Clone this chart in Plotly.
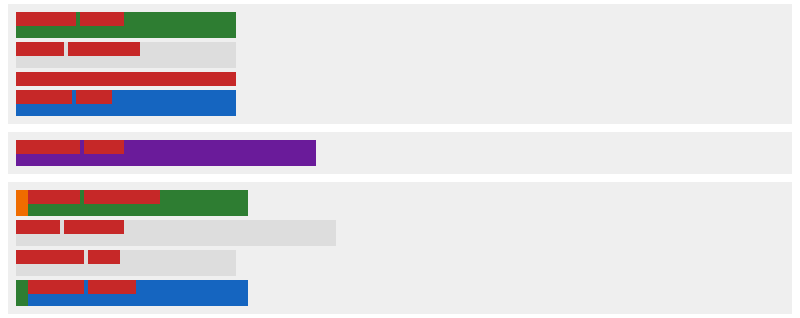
import plotly.graph_objects as go

# ---- colours ----
GREEN = "#2e7d32"
RED = "#c62828"
BLUE = "#1565c0"
PURPLE = "#6a1b9a"
ORANGE = "#ef6c00"
GREY = "#dddddd"
PANEL = "#efefef"

# ---- data (units: 1 unit = one step of the timeline) ----
# panel 1
p1_lead = [0, 0, 0, 0]
p1_lead_colors = [None, None, None, None]
p1_totals = [55, 55, 0, 55]
p1_colors = [GREEN, GREY, None, BLUE]
p1_red_starts = [[0, 16], [0, 13], [0], [0, 15]]
p1_red_lengths = [[15, 11], [12, 18], [55], [14, 9]]

# panel 2
p2_lead = [0]
p2_lead_colors = [None]
p2_totals = [75]
p2_colors = [PURPLE]
p2_red_starts = [[0, 17]]
p2_red_lengths = [[16, 10]]

# panel 3
p3_lead = [3, 0, 0, 3]
p3_lead_colors = [ORANGE, None, None, GREEN]
p3_totals = [55, 80, 55, 55]
p3_colors = [GREEN, GREY, GREY, BLUE]
p3_red_starts = [[3, 17], [0, 12], [0, 18], [3, 18]]
p3_red_lengths = [[13, 19], [11, 15], [17, 8], [14, 12]]

panels = [
    (p1_lead, p1_lead_colors, p1_totals, p1_colors, p1_red_starts, p1_red_lengths),
    (p2_lead, p2_lead_colors, p2_totals, p2_colors, p2_red_starts, p2_red_lengths),
    (p3_lead, p3_lead_colors, p3_totals, p3_colors, p3_red_starts, p3_red_lengths),
]

# ---- layout constants (pixels) ----
W, H = 800, 318
ROW_H = 26
RED_H = 14
ROW_GAP = 4
PAD = 8
PANEL_GAP = 8
TOP = 4
PX_PER_UNIT = 4
PANEL_X0, PANEL_X1 = 8, 792

fig = go.Figure()
layout_axes = {}
y_cursor = TOP
for pi, (lead, lead_c, totals, colors, rstarts, rlens) in enumerate(panels):
    n = pi + 1
    xa = "x" if n == 1 else f"x{n}"
    ya = "y" if n == 1 else f"y{n}"
    row_tops = []
    row_heights = []
    t = PAD
    for i in range(len(totals)):
        h = ROW_H if totals[i] > 0 else RED_H
        row_tops.append(t)
        row_heights.append(h)
        t += h + ROW_GAP
    panel_h = t - ROW_GAP + PAD

    def hbar(base, length, center, thick, color):
        fig.add_trace(go.Bar(
            orientation="h", base=[base], x=[length], y=[center], width=[thick],
            marker=dict(color=color, line=dict(width=0)),
            xaxis=xa, yaxis=ya, hoverinfo="skip", showlegend=False,
        ))

    for i in range(len(totals)):
        top = row_tops[i]
        h = row_heights[i]
        if lead[i] > 0:
            hbar(0, lead[i], top + h / 2, h, lead_c[i])
        if totals[i] > 0:
            hbar(lead[i], totals[i], top + h / 2, h, colors[i])
        for s, l in zip(rstarts[i], rlens[i]):
            hbar(s, l, top + RED_H / 2, RED_H, RED)

    x_units = (PANEL_X1 - PANEL_X0) / PX_PER_UNIT
    x_start = -(16 - PANEL_X0) / PX_PER_UNIT
    layout_axes["xaxis" if n == 1 else f"xaxis{n}"] = dict(
        domain=[PANEL_X0 / W, PANEL_X1 / W], range=[x_start, x_start + x_units],
        visible=False, fixedrange=True, anchor=ya,
    )
    layout_axes["yaxis" if n == 1 else f"yaxis{n}"] = dict(
        domain=[1 - (y_cursor + panel_h) / H, 1 - y_cursor / H],
        range=[panel_h, 0], visible=False, fixedrange=True, anchor=xa,
    )
    y_cursor += panel_h + PANEL_GAP

fig.update_layout(
    width=W, height=H,
    margin=dict(l=0, r=0, t=0, b=0),
    paper_bgcolor="white", plot_bgcolor=PANEL,
    barmode="overlay", showlegend=False,
    **layout_axes,
)

fig.write_html("out.html", config={"displayModeBar": False})
